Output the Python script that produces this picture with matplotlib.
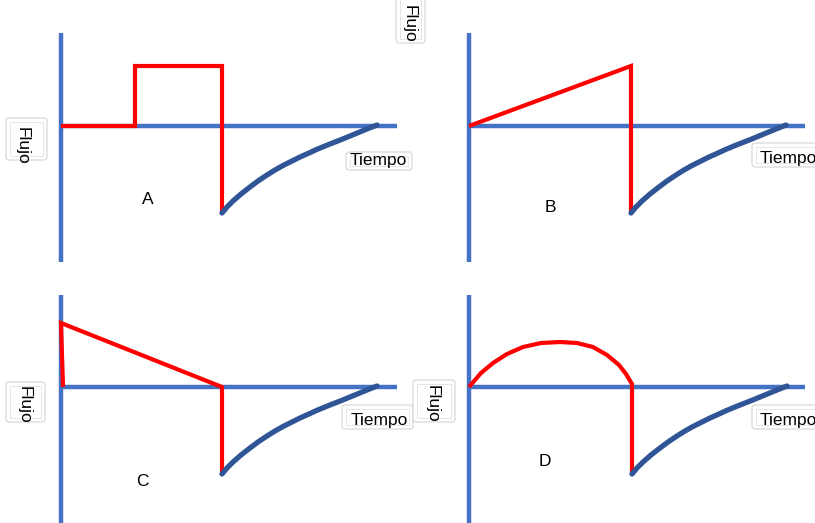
import matplotlib
matplotlib.use("Agg")
import matplotlib.pyplot as plt
from matplotlib.patches import FancyBboxPatch, Rectangle

# Flow waveforms for each panel: time offset and flow, in drawing units
# measured from the panel origin (flow positive upwards).
red_a_t = [0, 74, 74, 161, 161]
red_a_f = [0, 0, 60, 60, -87]

red_b_t = [0, 162, 162]
red_b_f = [0, 60, -87]

red_c_t = [2, 0, 161, 161]
red_c_f = [0, 64, 0, -88]

red_d_t = [0, 12, 24, 38, 54, 72, 91, 108, 124, 138, 150, 157, 163, 163]
red_d_f = [0, 14, 24, 33, 40, 44, 45, 44, 40, 32, 22, 13, 3, -88]

# passive exhalation curve, shared by every panel
exp_t = [0, 5, 11, 19, 28, 36, 45, 53, 61, 70, 78, 87, 95, 103, 111, 120, 128, 137, 145, 155]
exp_f = [-87, -81, -75, -68, -61, -55, -49, -44, -39.5, -35, -31, -27, -23.3, -20,
         -16.8, -13.3, -10, -6.3, -3, 1]

labels = ["A", "B", "C", "D"]

AXIS_BLUE = "#4472C4"
CURVE_BLUE = "#2F5597"
RED = "#FF0000"

# panel layout: origin, axis extents, label spots
panels = [
    dict(ox=61, oy=126, top=33, bottom=262, right=397, red=(red_a_t, red_a_f),
         letter=(148, 200), tiempo=(346, 152, 66, 18), flujo=(6, 118, 41, 42),
         flujo_txt=(22, 146), tiempo_txt=(378, 160)),
    dict(ox=469, oy=126, top=33, bottom=262, right=805, red=(red_b_t, red_b_f),
         letter=(550, 208), tiempo=(752, 143, 70, 24), flujo=(396, -5, 29, 48),
         flujo_txt=(409, 24), tiempo_txt=(788, 159)),
    dict(ox=61, oy=387, top=295, bottom=523, right=397, red=(red_c_t, red_c_f),
         letter=(142, 481), tiempo=(342, 405, 71, 24), flujo=(6, 382, 39, 40),
         flujo_txt=(24, 405), tiempo_txt=(379, 421)),
    dict(ox=469, oy=387, top=295, bottom=523, right=805, red=(red_d_t, red_d_f),
         letter=(545, 462), tiempo=(752, 405, 70, 24), flujo=(413, 380, 42, 42),
         flujo_txt=(432, 404), tiempo_txt=(788, 421)),
]

fig = plt.figure(figsize=(8.15, 5.23), dpi=100)
ax = fig.add_axes([0, 0, 1, 1])
ax.set_xlim(0, 815)
ax.set_ylim(523, 0)
ax.axis("off")

font = dict(family=["Liberation Sans", "DejaVu Sans"], fontsize=12.5, color="black")


def text_box(x, y, w, h):
    ax.add_patch(FancyBboxPatch((x, y), w, h, boxstyle="round,pad=0,rounding_size=3",
                                fc="white", ec="#d4d4d4", lw=0.8, zorder=4))
    ax.add_patch(Rectangle((x + 4, y + 4), w - 8, h - 8, fill=False,
                           ec="#e2e2e2", lw=0.6, zorder=4))


for p, letter in zip(panels, labels):
    ox, oy = p["ox"], p["oy"]
    ax.plot([ox, ox], [p["top"], p["bottom"]], color=AXIS_BLUE, lw=3.2,
            solid_capstyle="butt", zorder=1)
    ax.plot([ox, p["right"]], [oy, oy], color=AXIS_BLUE, lw=3.2,
            solid_capstyle="butt", zorder=1)

    rt, rf = p["red"]
    ax.plot([ox + t for t in rt], [oy - f for f in rf], color=RED, lw=3.0,
            solid_joinstyle="miter", solid_capstyle="butt", zorder=2)

    t0 = rt[-1]
    ax.plot([ox + t0 + t for t in exp_t], [oy - f for f in exp_f], color=CURVE_BLUE,
            lw=3.8, solid_capstyle="round", solid_joinstyle="round", zorder=3)

    text_box(*p["tiempo"])
    ax.text(*p["tiempo_txt"], "Tiempo", ha="center", va="center", zorder=5, **font)
    text_box(*p["flujo"])
    ax.text(*p["flujo_txt"], "Flujo", ha="center", va="center", rotation=-90,
            zorder=5, **font)

    ax.text(*p["letter"], letter, ha="center", va="center", zorder=5, **font)

fig.savefig("out.png", dpi=100)
plt.close(fig)
